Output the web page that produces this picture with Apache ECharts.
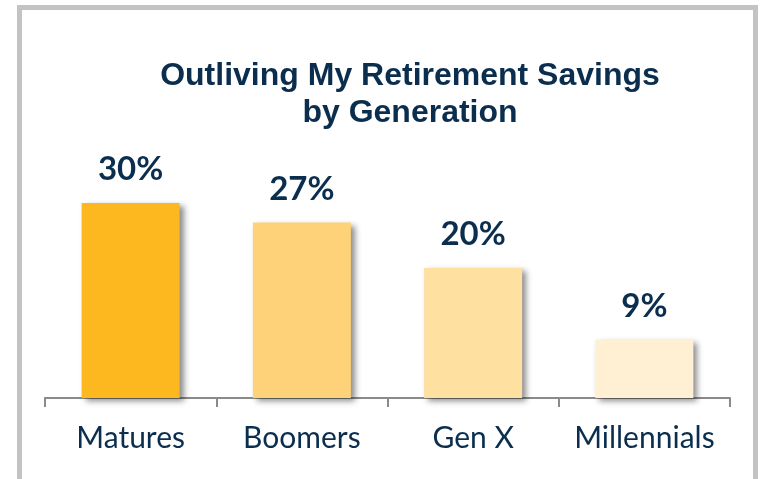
<!DOCTYPE html>
<html>
<head>
<meta charset="utf-8">
<script src="https://cdn.jsdelivr.net/npm/echarts@6/dist/echarts.min.js"></script>
<style>
  html, body { margin: 0; padding: 0; background: #fff; }
  #main { width: 765px; height: 479px; }
</style>
</head>
<body>
<div id="main"></div>
<script>
// data
var categories = ['Matures', 'Boomers', 'Gen X', 'Millennials'];
var values = [30, 27, 20, 9];
var barColors = ['#FDB71F', '#FED279', '#FEE1A1', '#FFF0D3'];
var titleLines = ['Outliving My Retirement Savings', 'by Generation'];

var navy = '#0B2E4F';

var myChart = echarts.init(document.getElementById('main'));

var option = {
    backgroundColor: '#fff',
    animation: false,
    graphic: [
        {
            type: 'rect',
            shape: { x: 19.5, y: 7.5, width: 736, height: 600 },
            style: { fill: 'none', stroke: '#c3c3c3', lineWidth: 5 },
            silent: true
        },
        {
            type: 'text',
            x: 410,
            y: 58,
            style: {
                text: titleLines.join('\n'),
                fill: navy,
                font: 'bold 32px "Liberation Sans", Arial, sans-serif',
                lineHeight: 37,
                align: 'center',
                verticalAlign: 'top'
            }
        }
    ],
    grid: {
        left: 45,
        right: 35,
        top: 138,
        bottom: 81
    },
    xAxis: {
        type: 'category',
        data: categories,
        axisLine: { lineStyle: { color: '#8a8a8a', width: 2 } },
        axisTick: { show: true, interval: 0, length: 9, lineStyle: { color: '#8a8a8a', width: 2 } },
        axisLabel: {
            interval: 0,
            hideOverlap: false,
            color: navy,
            fontFamily: 'Lato',
            fontSize: 30,
            margin: 25
        }
    },
    yAxis: {
        type: 'value',
        show: false,
        min: 0,
        max: 40
    },
    series: [
        {
            type: 'bar',
            barWidth: 98,
            data: values.map(function (v, i) {
                return { value: v, itemStyle: { color: barColors[i] } };
            }),
            itemStyle: {
                shadowColor: 'rgba(0,0,0,0.45)',
                shadowBlur: 6,
                shadowOffsetX: 4,
                shadowOffsetY: 3
            },
            label: {
                show: true,
                position: 'top',
                distance: 17,
                formatter: '{c}%',
                color: navy,
                fontFamily: 'Lato',
                fontWeight: 'bold',
                fontSize: 33
            }
        }
    ]
};

myChart.setOption(option);
</script>
</body>
</html>
